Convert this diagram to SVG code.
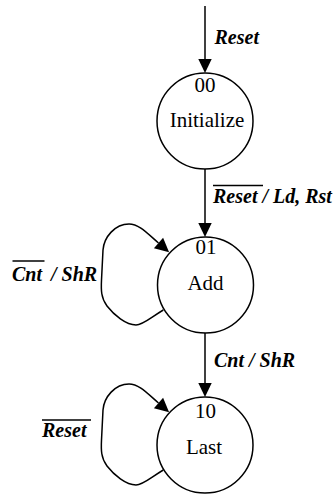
<svg xmlns="http://www.w3.org/2000/svg" width="336" height="495" viewBox="0 0 336 495">
  <rect width="336" height="495" fill="#fff"/>

  <g id="connectors" fill="none" stroke="#000" stroke-width="1.5">
    <path d="M205,6 L205,59"/>
    <path d="M205,169 L205,223"/>
    <path d="M205,333 L205,383"/>
    <path id="loop-01" d="M163.3,310 C150,318 143,325 136,325 C126,325 114,315 107,306 C101,298 101,290 101.5,280 L103,250 C104,237 115,224 129,224 C139,224 147,233 158.5,243"/>
    <path id="loop-10" d="M163.3,470 C150,478 143,485 136,485 C126,485 114,475 107,466 C101,458 101,450 101.5,440 L103,410 C104,397 115,384 129,384 C139,384 147,393 158.5,403"/>
    <g id="arrowheads" fill="#000" stroke="none">
      <polygon points="198.3,59 211.7,59 205,73"/>
      <polygon points="198.3,223 211.7,223 205,237"/>
      <polygon points="198.3,383 211.7,383 205,397"/>
      <polygon points="153.9,248.3 163.1,237.7 169.1,252.2"/>
      <polygon points="153.9,408.3 163.1,397.7 169.1,412.2"/>
    </g>
    <g id="overbars" stroke-width="1.3">
      <line x1="213" y1="185.5" x2="263" y2="185.5"/>
      <line x1="12.5" y1="261" x2="44.5" y2="261"/>
      <line x1="42" y1="420" x2="91" y2="420"/>
    </g>
  </g>

  <g id="labels" font-size="20" font-weight="bold" font-style="italic" fill="#000">
    <text style="font-family: 'Liberation Serif', 'Times New Roman', serif !important" x="214.5" y="44">Reset</text>
    <text style="font-family: 'Liberation Serif', 'Times New Roman', serif !important" x="213" y="203">Reset / Ld, Rst</text>
    <text style="font-family: 'Liberation Serif', 'Times New Roman', serif !important" x="12" y="281"><tspan>Cnt</tspan><tspan x="51">/ ShR</tspan></text>
    <text style="font-family: 'Liberation Serif', 'Times New Roman', serif !important" x="214" y="367">Cnt / ShR</text>
    <text style="font-family: 'Liberation Serif', 'Times New Roman', serif !important" x="42" y="437">Reset</text>
  </g>

  <g id="state-00" font-size="21" text-anchor="middle" fill="#000">
    <circle cx="205" cy="121" r="48" fill="#fff" stroke="#000" stroke-width="1.5"/>
    <text style="font-family: 'Liberation Serif', 'Times New Roman', serif !important" x="205" y="92">00</text>
    <text style="font-family: 'Liberation Serif', 'Times New Roman', serif !important" x="207" y="127">Initialize</text>
  </g>
  <g id="state-01" font-size="21" text-anchor="middle" fill="#000">
    <circle cx="205.5" cy="285" r="48" fill="#fff" stroke="#000" stroke-width="1.5"/>
    <text style="font-family: 'Liberation Serif', 'Times New Roman', serif !important" x="206" y="254">01</text>
    <text style="font-family: 'Liberation Serif', 'Times New Roman', serif !important" x="205.5" y="290">Add</text>
  </g>
  <g id="state-10" font-size="21" text-anchor="middle" fill="#000">
    <circle cx="205" cy="445" r="48" fill="#fff" stroke="#000" stroke-width="1.5"/>
    <text style="font-family: 'Liberation Serif', 'Times New Roman', serif !important" x="205.5" y="418">10</text>
    <text style="font-family: 'Liberation Serif', 'Times New Roman', serif !important" x="204" y="454">Last</text>
  </g>
</svg>
